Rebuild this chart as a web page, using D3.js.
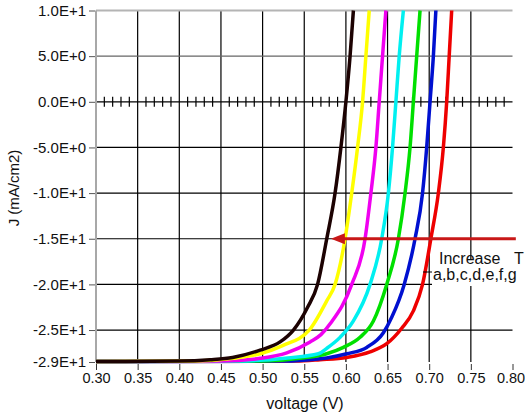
<html>
<head>
  <title>J-V curves</title>
  <script src='https://d3js.org/d3.v7.min.js'></script>
  <style>
    body { margin: 0; background: #fff; }
    text { font-family: 'Liberation Sans', Arial, sans-serif; fill: #111; }
  </style>
</head>
<body>
  <script>

// curves a..g, [voltage (V), J (mA/cm2)]
var curveA = [[0.30,-28.45],[0.40,-28.4],[0.437,-28.25],[0.464,-28.0],[0.497,-27.2],[0.521,-26.3],[0.537,-25.0],[0.554,-22.5],[0.566,-20],[0.577,-15],[0.587,-10],[0.594,-5],[0.600,0],[0.605,5],[0.609,10]];
var curveB = [[0.30,-28.45],[0.42,-28.4],[0.465,-28.1],[0.497,-27.6],[0.524,-26.7],[0.556,-25],[0.577,-21.8],[0.587,-20],[0.599,-15],[0.607,-10],[0.614,-5],[0.620,0],[0.624,5],[0.628,10]];
var curveC = [[0.30,-28.45],[0.45,-28.4],[0.497,-28.1],[0.529,-27.5],[0.557,-26.3],[0.570,-25.5],[0.582,-24.2],[0.607,-20],[0.623,-15],[0.630,-10],[0.636,-5],[0.640,0],[0.644,5],[0.648,10]];
var curveD = [[0.30,-28.45],[0.47,-28.4],[0.530,-28.05],[0.567,-27.6],[0.577,-27.0],[0.593,-25.8],[0.609,-24],[0.629,-20],[0.643,-15],[0.651,-10],[0.656,-5],[0.660,0],[0.664,5],[0.669,10]];
var curveE = [[0.30,-28.45],[0.50,-28.4],[0.550,-28.05],[0.577,-27.6],[0.597,-26.9],[0.617,-25.8],[0.633,-24],[0.649,-20],[0.663,-15],[0.671,-10],[0.677,-5],[0.681,0],[0.685,5],[0.689,10]];
var curveF = [[0.30,-28.45],[0.52,-28.4],[0.577,-28.05],[0.601,-27.6],[0.625,-26.9],[0.645,-25.3],[0.655,-23.6],[0.670,-20],[0.683,-15],[0.692,-10],[0.697,-5],[0.701,0],[0.705,5],[0.708,10]];
var curveG = [[0.30,-28.45],[0.54,-28.4],[0.569,-28.25],[0.601,-28.0],[0.629,-27.4],[0.649,-26.5],[0.667,-24.8],[0.681,-22.9],[0.692,-20],[0.702,-15],[0.711,-10],[0.717,-5],[0.721,0],[0.724,5],[0.727,10]];

var xTicks = [0.30,0.35,0.40,0.45,0.50,0.55,0.60,0.65,0.70,0.75,0.80];
var yTicks = [10,5,0,-5,-10,-15,-20,-25,-28.5];
var yTickLabels = ['1.0E+1','5.0E+0','0.0E+0','-5.0E+0','-1.0E+1','-1.5E+1','-2.0E+1','-2.5E+1','-2.9E+1'];

var curves = [curveG, curveF, curveE, curveD, curveC, curveB, curveA];
var colors = ['#ee0000','#0010d0','#00e000','#00f0f0','#f000f0','#ffff00','#1c0202'];

var width = 525, height = 416;

var svg = d3.select('body').append('svg')
  .attr('width', width)
  .attr('height', height);

var x = d3.scaleLinear().domain([0.30, 0.80]).range([96, 512.5]);
var y = d3.scaleLinear().domain([-28.5, 10]).range([362, 10.5]);

// grid
var grid = svg.append('g');
grid.selectAll('line.v')
  .data(xTicks.slice(1, -1))
  .enter().append('line')
  .attr('x1', function(d){ return x(d); })
  .attr('x2', function(d){ return x(d); })
  .attr('y1', y(10)).attr('y2', y(-28.5))
  .attr('stroke', '#000').attr('stroke-width', 1.2);

grid.selectAll('line.h')
  .data([5,0,-5,-10,-15,-20,-25])
  .enter().append('line')
  .attr('x1', x(0.30)).attr('x2', x(0.80))
  .attr('y1', function(d){ return y(d); })
  .attr('y2', function(d){ return y(d); })
  .attr('stroke', function(d){ return d == 5 ? '#666' : '#000'; })
  .attr('stroke-width', 1.2);

// minor crosses on the zero line
var minor = d3.range(31, 80).filter(function(d){ return d % 5 != 0; }).map(function(d){ return d / 100; });
grid.selectAll('line.m')
  .data(minor)
  .enter().append('line')
  .attr('x1', function(d){ return x(d); })
  .attr('x2', function(d){ return x(d); })
  .attr('y1', y(0) - 5).attr('y2', y(0) + 5)
  .attr('stroke', '#000').attr('stroke-width', 1.2);

// frame
svg.append('line')
  .attr('x1', x(0.30)).attr('x2', x(0.80))
  .attr('y1', y(10)).attr('y2', y(10))
  .attr('stroke', '#b4b4b4').attr('stroke-width', 2);
svg.append('line')
  .attr('x1', x(0.30)).attr('x2', x(0.30))
  .attr('y1', y(10)).attr('y2', y(-28.5))
  .attr('stroke', '#a8a8a8').attr('stroke-width', 2);

// axes
var yAxis = svg.append('g')
  .attr('transform', 'translate(95,0)')
  .call(d3.axisLeft(y).tickValues(yTicks).tickSize(6).tickPadding(3)
    .tickFormat(function(d, i){ return yTickLabels[i]; }));
yAxis.select('.domain').remove();
yAxis.selectAll('line').attr('stroke', '#555');
yAxis.selectAll('text').attr('font-size', 15).attr('font-family', 'Liberation Sans, Arial, sans-serif');

var xAxis = svg.append('g')
  .attr('transform', 'translate(0,364)')
  .call(d3.axisBottom(x).tickValues(xTicks).tickSize(6).tickPadding(3)
    .tickFormat(d3.format('.2f')));
xAxis.select('.domain').remove();
xAxis.selectAll('line').attr('stroke', '#333');
xAxis.selectAll('text').attr('font-size', 14.5).attr('font-family', 'Liberation Sans, Arial, sans-serif')
  .attr('dx', function(d){ return d >= 0.8 ? -2 : 0; });

svg.append('text')
  .attr('transform', 'translate(19,188) rotate(-90)')
  .attr('text-anchor', 'middle')
  .attr('font-size', 15)
  .text('J (mA/cm2)');

svg.append('text')
  .attr('x', 305).attr('y', 409)
  .attr('text-anchor', 'middle')
  .attr('font-size', 16)
  .text('voltage (V)');

// curves
var line = d3.line()
  .x(function(d){ return x(d[0]); })
  .y(function(d){ return y(d[1]); })
  .curve(d3.curveMonotoneX);

svg.append('g').selectAll('path')
  .data(curves)
  .enter().append('path')
  .attr('d', line)
  .attr('fill', 'none')
  .attr('stroke', function(d, i){ return colors[i]; })
  .attr('stroke-width', 3.5)
  .attr('stroke-linejoin', 'round');

// arrow + note
var arrowY = y(-15), tip = x(0.582);
svg.append('line')
  .attr('x1', x(0.804)).attr('x2', tip + 10)
  .attr('y1', arrowY).attr('y2', arrowY)
  .attr('stroke', '#c81818').attr('stroke-width', 3);
svg.append('path')
  .attr('d', 'M' + tip + ',' + arrowY + 'L' + (tip + 14) + ',' + (arrowY - 5.5) + 'L' + (tip + 14) + ',' + (arrowY + 5.5) + 'Z')
  .attr('fill', '#c81818');

svg.append('rect')
  .attr('x', 432).attr('y', 259).attr('width', 93).attr('height', 27)
  .attr('fill', '#fff');
svg.append('line')
  .attr('x1', 423).attr('x2', 432).attr('y1', 272).attr('y2', 272)
  .attr('stroke', '#000').attr('stroke-width', 1);

svg.append('text').attr('x', 439).attr('y', 264).attr('font-size', 16).text('Increase');
svg.append('text').attr('x', 514).attr('y', 264).attr('font-size', 16).text('T');
svg.append('text').attr('x', 433).attr('y', 280).attr('font-size', 16).text('a,b,c,d,e,f,g');

  </script>
</body>
</html>
